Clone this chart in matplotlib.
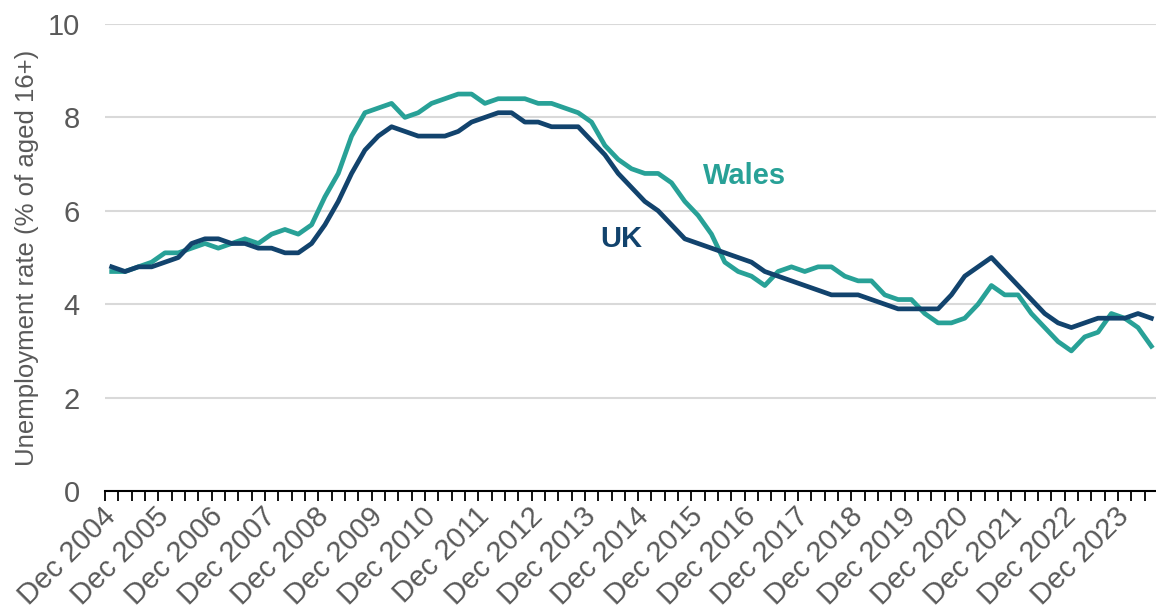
import matplotlib
matplotlib.use("Agg")
from matplotlib import pyplot as plt
import numpy as np
import pandas as pd

plt.rcParams["font.family"] = ["Liberation Sans", "DejaVu Sans"]

# quarterly periods, Dec 2004 - Jun 2024
quarters = pd.date_range("2004-12-01", periods=79, freq="3MS").strftime("%b %Y").tolist()

uk_rate = [4.8, 4.7, 4.8, 4.8, 4.9, 5.0, 5.3, 5.4, 5.4, 5.3,
           5.3, 5.2, 5.2, 5.1, 5.1, 5.3, 5.7, 6.2, 6.8, 7.3,
           7.6, 7.8, 7.7, 7.6, 7.6, 7.6, 7.7, 7.9, 8.0, 8.1,
           8.1, 7.9, 7.9, 7.8, 7.8, 7.8, 7.5, 7.2, 6.8, 6.5,
           6.2, 6.0, 5.7, 5.4, 5.3, 5.2, 5.1, 5.0, 4.9, 4.7,
           4.6, 4.5, 4.4, 4.3, 4.2, 4.2, 4.2, 4.1, 4.0, 3.9,
           3.9, 3.9, 3.9, 4.2, 4.6, 4.8, 5.0, 4.7, 4.4, 4.1,
           3.8, 3.6, 3.5, 3.6, 3.7, 3.7, 3.7, 3.8, 3.7]

wales_rate = [4.7, 4.7, 4.8, 4.9, 5.1, 5.1, 5.2, 5.3, 5.2, 5.3,
              5.4, 5.3, 5.5, 5.6, 5.5, 5.7, 6.3, 6.8, 7.6, 8.1,
              8.2, 8.3, 8.0, 8.1, 8.3, 8.4, 8.5, 8.5, 8.3, 8.4,
              8.4, 8.4, 8.3, 8.3, 8.2, 8.1, 7.9, 7.4, 7.1, 6.9,
              6.8, 6.8, 6.6, 6.2, 5.9, 5.5, 4.9, 4.7, 4.6, 4.4,
              4.7, 4.8, 4.7, 4.8, 4.8, 4.6, 4.5, 4.5, 4.2, 4.1,
              4.1, 3.8, 3.6, 3.6, 3.7, 4.0, 4.4, 4.2, 4.2, 3.8,
              3.5, 3.2, 3.0, 3.3, 3.4, 3.8, 3.7, 3.5, 3.1]

uk_color = "#12436D"
wales_color = "#28A197"
grey = "#595959"

x = np.arange(len(quarters))

fig = plt.figure(figsize=(11.56, 6.16), dpi=100)
ax = fig.add_axes([105 / 1156, 125 / 616, 1053 / 1156, 467 / 616])

ax.plot(x, wales_rate, color=wales_color, lw=3.4, solid_joinstyle="round")
ax.plot(x, uk_rate, color=uk_color, lw=3.4, solid_joinstyle="round")

ax.set_xlim(-0.5, len(quarters) - 0.5)
ax.set_ylim(0, 10)
ax.set_yticks([0, 2, 4, 6, 8, 10])
ax.yaxis.grid(True, color="#D9D9D9", lw=1.5)
ax.set_axisbelow(True)

# tick marks between categories, labels on every 4th category
ax.set_xticks(np.arange(-0.5, len(quarters), 1.0))
ax.set_xticklabels([])
ax.tick_params(axis="x", which="major", length=7, width=1.3, color="black", direction="out")
ax.set_xticks(x[::4], minor=True)
ax.set_xticklabels(quarters[::4], minor=True, rotation=45, ha="right", va="center",
                   rotation_mode="anchor", fontsize=21, color=grey)
ax.tick_params(axis="x", which="minor", length=0, pad=15)
ax.tick_params(axis="y", length=0, labelsize=21, labelcolor=grey, pad=18)

for s in ["top", "right", "left"]:
    ax.spines[s].set_visible(False)
ax.spines["bottom"].set_linewidth(1.5)

ax.set_ylabel("Unemployment rate (% of aged 16+)", fontsize=18.5, color=grey, labelpad=6)

ax.text(47.5, 6.75, "Wales", color=wales_color, fontsize=21, fontweight="bold",
        ha="center", va="center")
ax.text(38.2, 5.4, "UK", color=uk_color, fontsize=21, fontweight="bold",
        ha="center", va="center")

fig.savefig("out.png", dpi=100)
